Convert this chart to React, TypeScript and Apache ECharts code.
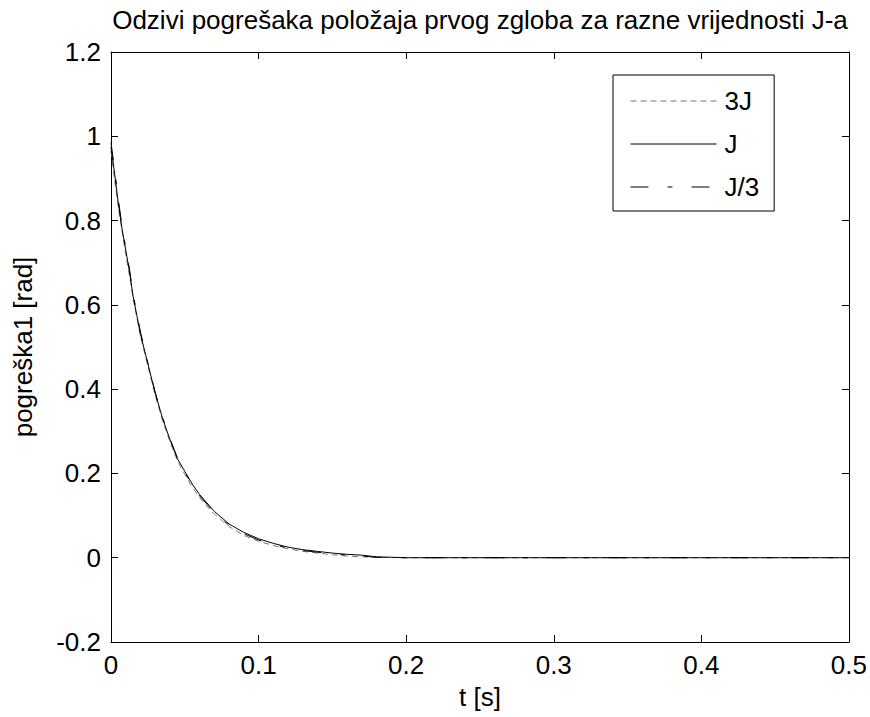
import React, { useEffect, useRef } from "react";
import * as echarts from "echarts";

const titleText = "Odzivi pogrešaka položaja prvog zgloba za razne vrijednosti J-a";
const xName = "t [s]";
const yName = "pogreška1 [rad]";
const seriesNames = ["3J", "J", "J/3"];

const tValues = [0, 0.0025, 0.005, 0.0075, 0.01, 0.0125, 0.015, 0.0175, 0.02, 0.025, 0.03, 0.035, 0.04, 0.045, 0.05, 0.055, 0.06, 0.065, 0.07, 0.08, 0.09, 0.1, 0.11, 0.12, 0.13, 0.14, 0.15, 0.16, 0.17, 0.18, 0.2, 0.3, 0.4, 0.5];
const err3J = [0.965, 0.895, 0.83, 0.775, 0.72, 0.67, 0.615, 0.57, 0.525, 0.455, 0.385, 0.325, 0.275, 0.23, 0.198, 0.168, 0.143, 0.122, 0.104, 0.074, 0.053, 0.039, 0.029, 0.021, 0.015, 0.011, 0.007, 0.004, 0.002, 0.001, 0, 0, 0, 0];
const errJ = [0.975, 0.91, 0.84, 0.78, 0.73, 0.68, 0.62, 0.575, 0.53, 0.46, 0.39, 0.33, 0.28, 0.235, 0.205, 0.175, 0.15, 0.13, 0.11, 0.08, 0.06, 0.045, 0.034, 0.025, 0.019, 0.015, 0.011, 0.008, 0.006, 0.002, 0, 0, 0, 0];
const errJ3 = [0.985, 0.92, 0.85, 0.785, 0.735, 0.685, 0.625, 0.58, 0.535, 0.462, 0.392, 0.332, 0.282, 0.237, 0.203, 0.172, 0.147, 0.127, 0.107, 0.077, 0.057, 0.042, 0.031, 0.023, 0.017, 0.013, 0.009, 0.006, 0.004, 0.001, 0, 0, 0, 0];

const FONT = "'Liberation Sans', Arial, Helvetica, sans-serif";
const FS = 26;

const pairs = (ys: number[]) => tValues.map((t, i) => [t, ys[i]]);

export default function App() {
  const ref = useRef<HTMLDivElement>(null);
  useEffect(() => {
    if (!ref.current) return;
    const chart = echarts.init(ref.current, undefined, { renderer: "svg" });
    const tickCommon = {
      axisLine: { show: true, onZero: false, lineStyle: { color: "#000", width: 1 } },
      axisTick: { show: true, inside: true, length: 7, lineStyle: { color: "#000", width: 1 } },
      splitLine: { show: false },
    };
    const fmt = (v: number) => String(+v.toFixed(1));
    chart.setOption({
      animation: false,
      backgroundColor: "#fff",
      textStyle: { fontFamily: FONT },
      grid: { left: 111, top: 52, right: 21, bottom: 75, containLabel: false },
      graphic: [
        {
          type: "text",
          x: 480,
          y: 20,
          style: {
            text: titleText,
            fontFamily: FONT,
            fontSize: FS,
            fill: "#000",
            textAlign: "center",
            textVerticalAlign: "middle",
          },
        },
      ],
      legend: {
        orient: "vertical",
        left: 613,
        top: 75,
        padding: [13, 15, 11, 17],
        borderColor: "#000",
        borderWidth: 1,
        backgroundColor: "#fff",
        itemWidth: 86,
        itemHeight: 14,
        itemGap: 17,
        itemStyle: { opacity: 0 },
        lineStyle: { width: 1 },
        textStyle: { fontFamily: FONT, fontSize: FS, color: "#000", padding: [0, 0, 0, 3] },
        data: seriesNames,
      },
      xAxis: [
        {
          type: "value",
          min: 0,
          max: 0.5,
          interval: 0.1,
          position: "bottom",
          name: xName,
          nameLocation: "middle",
          nameGap: 42,
          nameTextStyle: { fontFamily: FONT, fontSize: FS, color: "#000" },
          axisLabel: { fontFamily: FONT, fontSize: FS, color: "#000", margin: 10, formatter: fmt },
          ...tickCommon,
        },
        {
          type: "value",
          min: 0,
          max: 0.5,
          interval: 0.1,
          position: "top",
          axisLabel: { show: false },
          ...tickCommon,
        },
      ],
      yAxis: [
        {
          type: "value",
          min: -0.2,
          max: 1.2,
          interval: 0.2,
          position: "left",
          name: yName,
          nameLocation: "middle",
          nameGap: 75,
          nameTextStyle: { fontFamily: FONT, fontSize: FS, color: "#000" },
          axisLabel: { fontFamily: FONT, fontSize: FS, color: "#000", margin: 10, formatter: fmt },
          ...tickCommon,
        },
        {
          type: "value",
          min: -0.2,
          max: 1.2,
          interval: 0.2,
          position: "right",
          axisLabel: { show: false },
          ...tickCommon,
        },
      ],
      series: [
        {
          name: seriesNames[0],
          type: "line",
          data: pairs(err3J),
          symbol: "none",
          lineStyle: { color: "#777", width: 1, type: [6, 4] },
          itemStyle: { color: "#777" },
        },
        {
          name: seriesNames[1],
          type: "line",
          data: pairs(errJ),
          symbol: "none",
          lineStyle: { color: "#000", width: 1, type: "solid" },
          itemStyle: { color: "#000" },
        },
        {
          name: seriesNames[2],
          type: "line",
          data: pairs(errJ3),
          symbol: "none",
          lineStyle: { color: "#000", width: 1, type: [18, 19, 5, 19] },
          itemStyle: { color: "#000" },
        },
      ],
    });
    return () => chart.dispose();
  }, []);
  return (
    <div
      ref={ref}
      style={{ position: "fixed", left: 0, top: 0, width: 870, height: 717, background: "#fff" }}
    />
  );
}
